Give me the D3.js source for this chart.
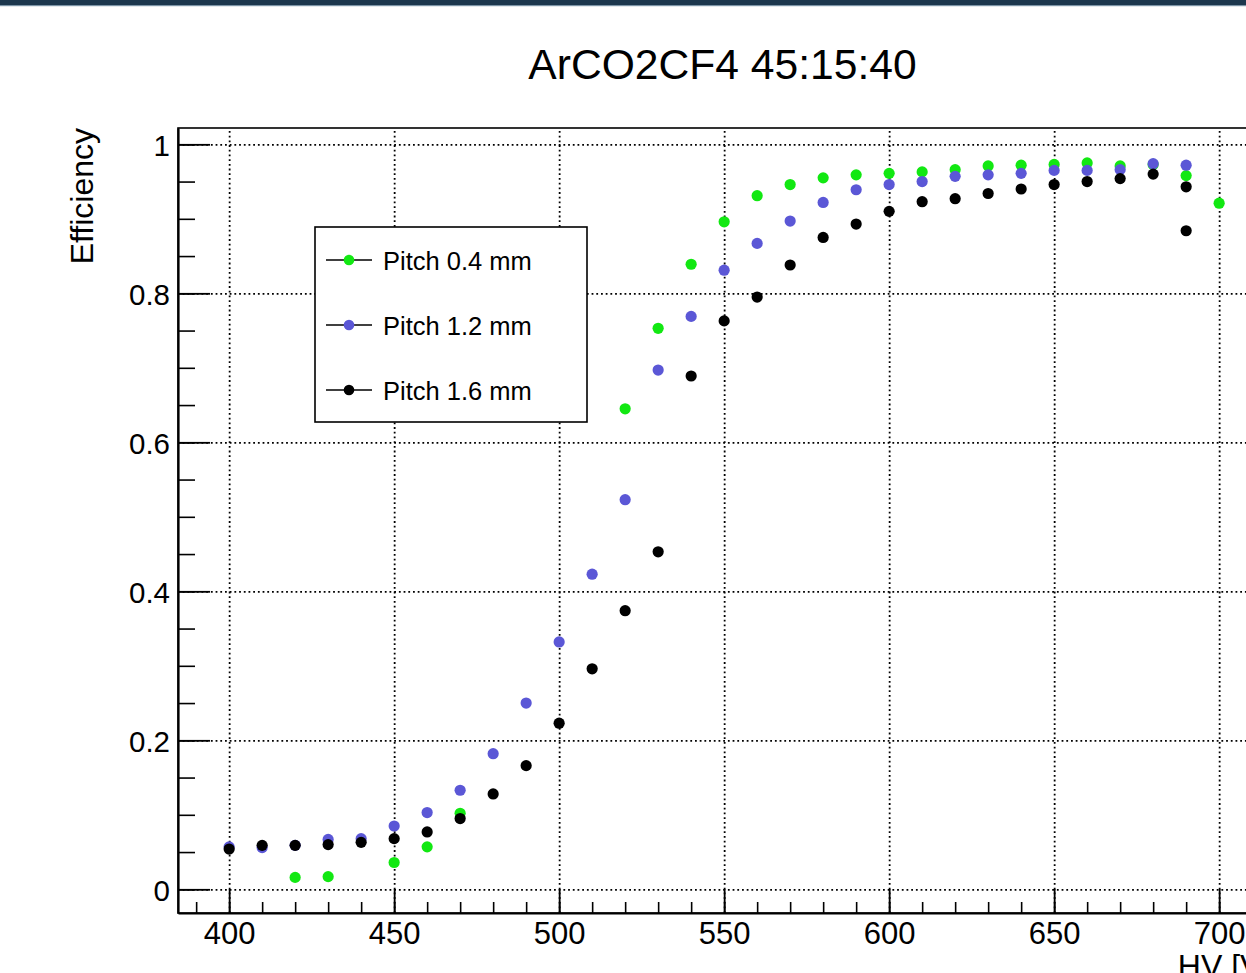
<!DOCTYPE html>
<html>
<head>
<meta charset="utf-8">
<script src="https://cdn.jsdelivr.net/npm/d3@7"></script>
<style>
  html, body { margin: 0; padding: 0; background: #fff; }
  svg { display: block; }
  text { font-family: "Liberation Sans", Arial, Helvetica, sans-serif; fill: #000; }
</style>
</head>
<body>
<svg id="chart" width="1246" height="973"></svg>
<script>
// ---------------- data ----------------
const titleText = "ArCO2CF4 45:15:40";
const xTitle = "HV [V]";
const yTitle = "Efficiency";

const seriesNames = ["Pitch 0.4 mm", "Pitch 1.2 mm", "Pitch 1.6 mm"];
const seriesColors = ["#12e812", "#5b57d6", "#000000"];

const hvPitch04 = [420, 430, 450, 460, 470, 520, 530, 540, 550, 560, 570, 580, 590, 600, 610, 620, 630, 640, 650, 660, 670, 680, 690, 700];
const effPitch04 = [0.016, 0.017, 0.036, 0.057, 0.102, 0.645, 0.753, 0.839, 0.896, 0.931, 0.946, 0.955, 0.959, 0.961, 0.963, 0.966, 0.971, 0.972, 0.973, 0.975, 0.971, 0.973, 0.958, 0.921];

const hvPitch12 = [400, 410, 420, 430, 440, 450, 460, 470, 480, 490, 500, 510, 520, 530, 540, 550, 560, 570, 580, 590, 600, 610, 620, 630, 640, 650, 660, 670, 680, 690];
const effPitch12 = [0.057, 0.056, 0.059, 0.067, 0.068, 0.085, 0.103, 0.133, 0.182, 0.250, 0.332, 0.423, 0.523, 0.697, 0.769, 0.831, 0.867, 0.897, 0.922, 0.939, 0.946, 0.950, 0.957, 0.959, 0.961, 0.965, 0.965, 0.966, 0.974, 0.972];

const hvPitch16 = [400, 410, 420, 430, 440, 450, 460, 470, 480, 490, 500, 510, 520, 530, 540, 550, 560, 570, 580, 590, 600, 610, 620, 630, 640, 650, 660, 670, 680, 690, 690];
const effPitch16 = [0.054, 0.059, 0.059, 0.060, 0.063, 0.068, 0.077, 0.095, 0.128, 0.166, 0.223, 0.296, 0.374, 0.453, 0.689, 0.763, 0.795, 0.838, 0.875, 0.893, 0.910, 0.923, 0.927, 0.934, 0.940, 0.946, 0.950, 0.954, 0.960, 0.943, 0.884];

const xMajorTicks = [400, 450, 500, 550, 600, 650, 700];
const xMinorTicks = d3.range(390, 716, 10);
const yMajorTicks = [0, 0.2, 0.4, 0.6, 0.8, 1];
const yMinorTicks = d3.range(0, 1.0001, 0.05);
const yTickLabels = ["0", "0.2", "0.4", "0.6", "0.8", "1"];

const xDomain = [384.5, 715.5];
const yDomain = [-0.0318, 1.0219];

// ---------------- layout ----------------
const svg = d3.select("#chart");
const L = 178, T = 128, B = 913, R = 178 + (xDomain[1] - xDomain[0]) * 3.3;

const x = d3.scaleLinear().domain(xDomain).range([L, R]);
const y = d3.scaleLinear().domain(yDomain).range([B, T]);

// top navy band
svg.append("rect").attr("x", 0).attr("y", 0).attr("width", 1246).attr("height", 5).attr("fill", "#1c374d");
svg.append("rect").attr("x", 0).attr("y", 5).attr("width", 1246).attr("height", 1.2).attr("fill", "#7a93a5");

// grid
const gridX = svg.append("g").attr("transform", `translate(0,${B})`)
  .call(d3.axisBottom(x).tickValues(xMajorTicks).tickSize(-(B - T)).tickFormat(""));
gridX.select(".domain").remove();
gridX.selectAll("line").attr("stroke", "#000").attr("stroke-width", 1.8).attr("stroke-dasharray", "1.8,2.9");

const gridY = svg.append("g").attr("transform", `translate(${L},0)`)
  .call(d3.axisLeft(y).tickValues(yMajorTicks).tickSize(-(R - L)).tickFormat(""));
gridY.select(".domain").remove();
gridY.selectAll("line").attr("stroke", "#000").attr("stroke-width", 1.8).attr("stroke-dasharray", "1.8,2.9");

// frame
svg.append("rect").attr("x", L).attr("y", T).attr("width", R - L).attr("height", B - T)
  .attr("fill", "none").attr("stroke", "#000").attr("stroke-width", 1.6);

// x axis minor + major
const xMinor = svg.append("g").attr("transform", `translate(0,${B})`)
  .call(d3.axisBottom(x).tickValues(xMinorTicks).tickSize(-11).tickSizeOuter(0).tickFormat(""));
xMinor.select(".domain").remove();
xMinor.selectAll("line").attr("stroke", "#000").attr("stroke-width", 1.6);

const xAxis = svg.append("g").attr("transform", `translate(0,${B})`)
  .call(d3.axisBottom(x).tickValues(xMajorTicks).tickSize(-24).tickSizeOuter(0).tickPadding(9).tickFormat(d3.format("d")));
xAxis.select(".domain").attr("stroke", "#000").attr("stroke-width", 2.2);
xAxis.selectAll("line").attr("stroke", "#000").attr("stroke-width", 1.8);
xAxis.selectAll("text").attr("font-size", 31).attr("font-family", "Liberation Sans, Arial, sans-serif").attr("fill", "#000");

// y axis minor + major
const yMinor = svg.append("g").attr("transform", `translate(${L},0)`)
  .call(d3.axisLeft(y).tickValues(yMinorTicks).tickSize(-17).tickSizeOuter(0).tickFormat(""));
yMinor.select(".domain").remove();
yMinor.selectAll("line").attr("stroke", "#000").attr("stroke-width", 1.6);

const yAxis = svg.append("g").attr("transform", `translate(${L},0)`)
  .call(d3.axisLeft(y).tickValues(yMajorTicks).tickSize(-32).tickSizeOuter(0).tickPadding(8)
    .tickFormat((d, i) => yTickLabels[i]));
yAxis.select(".domain").attr("stroke", "#000").attr("stroke-width", 2.2);
yAxis.selectAll("line").attr("stroke", "#000").attr("stroke-width", 1.8);
yAxis.selectAll("text").attr("font-size", 29.5).attr("dy", "0.38em")
  .attr("font-family", "Liberation Sans, Arial, sans-serif").attr("fill", "#000");

// titles
svg.append("text").attr("x", 722.5).attr("y", 79).attr("text-anchor", "middle")
  .attr("font-size", 42.6).text(titleText);

svg.append("text").attr("transform", `translate(93,${T}) rotate(-90)`)
  .attr("text-anchor", "end").attr("font-size", 32).text(yTitle);

svg.append("text").attr("x", R).attr("y", 977).attr("text-anchor", "end")
  .attr("font-size", 32).text(xTitle);

// data points
const allSeries = [
  { hv: hvPitch04, eff: effPitch04 },
  { hv: hvPitch12, eff: effPitch12 },
  { hv: hvPitch16, eff: effPitch16 }
];
allSeries.forEach((s, k) => {
  const pts = s.hv.map((v, i) => ({ hv: v, eff: s.eff[i] }));
  svg.append("g").selectAll("circle").data(pts).join("circle")
    .attr("cx", d => x(d.hv)).attr("cy", d => y(d.eff)).attr("r", 5.6)
    .attr("fill", seriesColors[k]);
});

// legend
const lg = svg.append("g");
lg.append("rect").attr("x", 315).attr("y", 227).attr("width", 272).attr("height", 195)
  .attr("fill", "#fff").attr("stroke", "#000").attr("stroke-width", 1.6);
const rowY = d3.scalePoint().domain(seriesNames).range([260, 390]);
seriesNames.forEach((name, k) => {
  const cy = rowY(name);
  lg.append("line").attr("x1", 326).attr("x2", 372).attr("y1", cy).attr("y2", cy)
    .attr("stroke", "#000").attr("stroke-width", 1.6);
  lg.append("circle").attr("cx", 349).attr("cy", cy).attr("r", 5.3).attr("fill", seriesColors[k]);
  lg.append("text").attr("x", 383).attr("y", cy + 9.5).attr("font-size", 25.5).text(name);
});
</script>
</body>
</html>
